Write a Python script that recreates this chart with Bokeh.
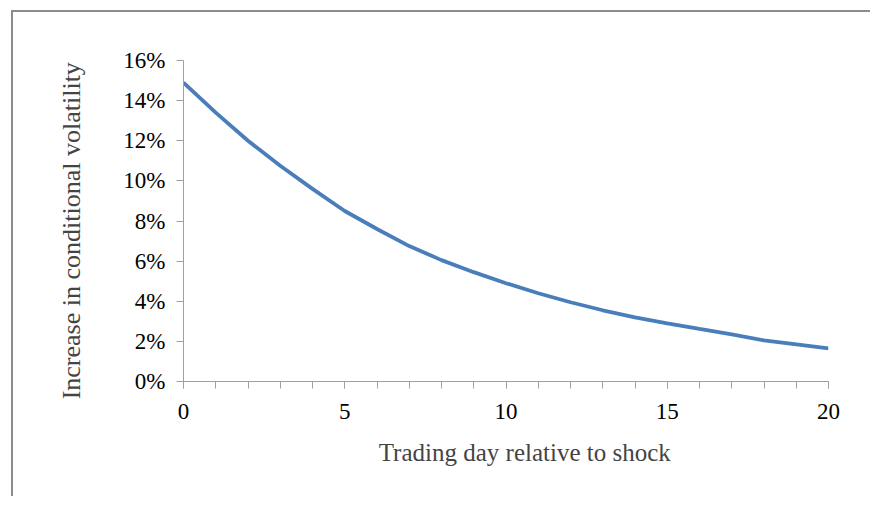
from bokeh.plotting import figure
from bokeh.models import FixedTicker, Range1d
from bokeh.embed import file_html
from bokeh.resources import INLINE

days = list(range(21))
increase = [14.9, 13.4, 12.0, 10.75, 9.6, 8.5, 7.6, 6.75, 6.05, 5.45, 4.9,
            4.4, 3.95, 3.55, 3.2, 2.9, 2.62, 2.35, 2.05, 1.85, 1.65]
y_ticks = [0, 2, 4, 6, 8, 10, 12, 14, 16]
y_tick_labels = {t: f"{t}%" for t in y_ticks}
x_ticks = [0, 5, 10, 15, 20]

FONT = "Liberation Serif"
NB = "\u00a0"

p = figure(frame_width=645, frame_height=321, output_backend="svg", toolbar_location=None,
           x_range=Range1d(0, 20), y_range=Range1d(0, 16),
           min_border_left=170, min_border_top=48, min_border_right=42,
           min_border_bottom=115)
p.styles = {"border-top": "2px solid #8c8c8c", "border-left": "2px solid #8c8c8c",
            "margin-left": "11px", "margin-top": "10px"}

p.line(days, increase, line_color="#4a7ebb", line_width=3.8)

p.xgrid.visible = False
p.ygrid.visible = False
p.outline_line_color = None

ax = p.xaxis[0]
ax.ticker = FixedTicker(ticks=x_ticks, minor_ticks=days)
ax.axis_line_color = "#a0a0a0"
ax.major_tick_line_color = "#a0a0a0"
ax.minor_tick_line_color = "#a0a0a0"
ax.major_tick_in = 0
ax.major_tick_out = 7
ax.minor_tick_in = 0
ax.minor_tick_out = 7
ax.major_label_text_font = FONT
ax.major_label_text_font_size = "23px"
ax.major_label_text_color = "#000000"
ax.major_label_standoff = 15
ax.axis_label = NB * 6 + "Trading day relative to shock"
ax.axis_label_text_font = FONT
ax.axis_label_text_font_size = "25px"
ax.axis_label_text_font_style = "normal"
ax.axis_label_standoff = 17

ay = p.yaxis[0]
ay.ticker = FixedTicker(ticks=y_ticks, minor_ticks=[])
ay.major_label_overrides = y_tick_labels
ay.axis_line_color = "#a0a0a0"
ay.major_tick_line_color = "#a0a0a0"
ay.major_tick_in = 0
ay.major_tick_out = 7
ay.minor_tick_line_color = None
ay.major_label_text_font = FONT
ay.major_label_text_font_size = "23px"
ay.major_label_text_color = "#000000"
ay.major_label_standoff = 11
ay.axis_label = "Increase in conditional volatility" + NB * 3
ay.axis_label_text_font = FONT
ay.axis_label_text_font_size = "26px"
ay.axis_label_text_font_style = "normal"
ay.axis_label_standoff = 34

open("out.html", "w").write(file_html(p, INLINE))
